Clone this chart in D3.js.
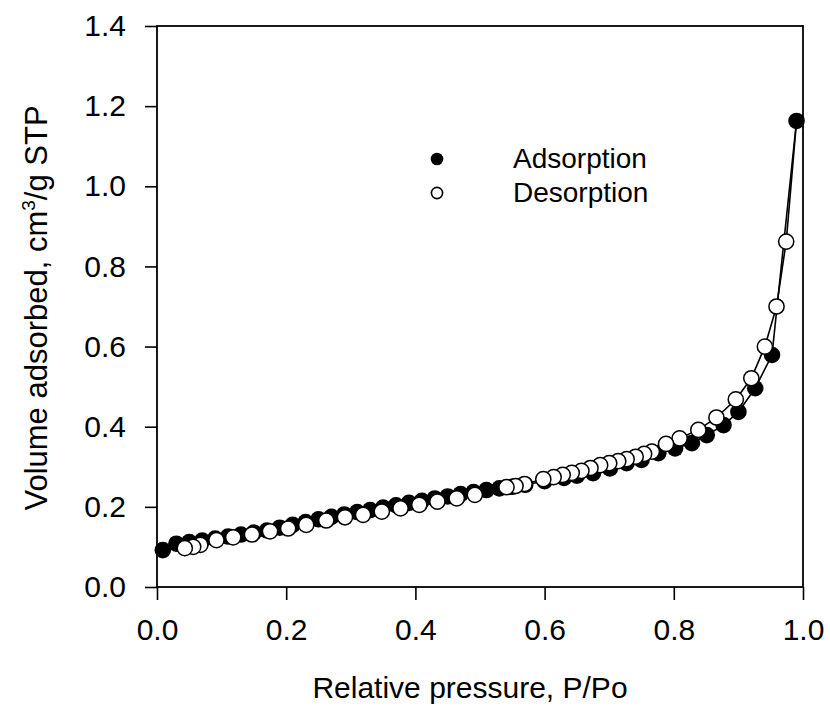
<!DOCTYPE html>
<html><head><meta charset="utf-8">
<script src="https://cdn.jsdelivr.net/npm/d3@7"></script>
<style>body{margin:0;background:#fff}svg{display:block}text{font-family:"Liberation Sans",Arial,Helvetica,sans-serif;fill:#000}</style>
</head><body><svg id="c" width="830" height="706"></svg>
<script>
const adsX = [0.009,0.03,0.05,0.07,0.09,0.11,0.13,0.15,0.17,0.19,0.21,0.23,0.25,0.27,0.29,0.31,0.33,0.35,0.37,0.39,0.41,0.43,0.45,0.47,0.49,0.51,0.53,0.55,0.57,0.60,0.63,0.65,0.675,0.701,0.727,0.75,0.776,0.802,0.828,0.851,0.877,0.90,0.926,0.952,0.99];
const adsY = [0.092,0.108,0.112,0.116,0.121,0.126,0.131,0.136,0.141,0.148,0.155,0.162,0.169,0.175,0.181,0.187,0.192,0.198,0.204,0.210,0.215,0.221,0.226,0.232,0.237,0.242,0.246,0.250,0.255,0.264,0.272,0.278,0.284,0.296,0.309,0.317,0.334,0.346,0.359,0.379,0.404,0.437,0.496,0.579,1.163];
const desX = [0.974,0.959,0.941,0.92,0.896,0.866,0.838,0.809,0.788,0.766,0.754,0.741,0.727,0.714,0.70,0.686,0.671,0.657,0.642,0.628,0.614,0.598,0.569,0.555,0.541,0.492,0.464,0.434,0.406,0.377,0.348,0.319,0.291,0.262,0.231,0.203,0.175,0.147,0.118,0.092,0.067,0.056,0.043];
const desY = [0.862,0.70,0.60,0.521,0.468,0.423,0.392,0.371,0.357,0.338,0.332,0.325,0.319,0.314,0.309,0.304,0.297,0.290,0.285,0.280,0.274,0.269,0.257,0.252,0.249,0.230,0.221,0.213,0.205,0.196,0.188,0.180,0.174,0.166,0.155,0.146,0.139,0.131,0.124,0.117,0.105,0.100,0.097];
const xTicks = [0,0.2,0.4,0.6,0.8,1.0];
const yTicks = [0,0.2,0.4,0.6,0.8,1.0,1.2,1.4];
const seriesNames = ["Adsorption","Desorption"];

const L=157,R=803,T=26,B=587;
const svg=d3.select("#c");
const x=d3.scaleLinear().domain([0,1]).range([L,R]);
const y=d3.scaleLinear().domain([0,1.4]).range([B,T]);
const FS=30;

const xa=svg.append("g").attr("transform",`translate(0,${B})`)
  .call(d3.axisBottom(x).tickValues(xTicks).tickFormat(d3.format(".1f")).tickSizeInner(13).tickSizeOuter(0).tickPadding(19));
const ya=svg.append("g").attr("transform",`translate(${L},0)`)
  .call(d3.axisLeft(y).tickValues(yTicks).tickFormat(d3.format(".1f")).tickSizeInner(12).tickSizeOuter(0).tickPadding(19));
[xa,ya].forEach(a=>{a.select(".domain").remove();a.selectAll("line").attr("stroke","#000").attr("stroke-width",1.6);
  a.selectAll("text").attr("font-size",FS).attr("font-family","Liberation Sans, Arial, sans-serif").attr("fill","#000");});
svg.append("rect").attr("x",L).attr("y",T).attr("width",R-L).attr("height",B-T)
  .attr("fill","none").attr("stroke","#000").attr("stroke-width",1.8);

const ads=adsX.map((d,i)=>[d,adsY[i]]);
const des=desX.map((d,i)=>[d,desY[i]]);
const line=d3.line().x(d=>x(d[0])).y(d=>y(d[1]));
svg.append("path").attr("d",line(ads)).attr("fill","none").attr("stroke","#000").attr("stroke-width",1.6);
svg.append("path").attr("d",line([ads[ads.length-1]].concat(des))).attr("fill","none").attr("stroke","#000").attr("stroke-width",1.6);
svg.append("g").selectAll("circle").data(ads).join("circle")
  .attr("cx",d=>x(d[0])).attr("cy",d=>y(d[1])).attr("r",8.3).attr("fill","#000");
svg.append("g").selectAll("circle").data(des).join("circle")
  .attr("cx",d=>x(d[0])).attr("cy",d=>y(d[1])).attr("r",7.6).attr("fill","#fff").attr("stroke","#000").attr("stroke-width",1.5);

// legend
const lg=svg.append("g");
lg.append("circle").attr("cx",437).attr("cy",159).attr("r",6.3).attr("fill","#000");
lg.append("circle").attr("cx",437).attr("cy",193).attr("r",5.6).attr("fill","#fff").attr("stroke","#000").attr("stroke-width",1.6);
lg.append("text").attr("x",513).attr("y",168).attr("font-size",28).text(seriesNames[0]);
lg.append("text").attr("x",513).attr("y",202).attr("font-size",28).text(seriesNames[1]);

// axis titles
svg.append("text").attr("x",470).attr("y",698).attr("text-anchor","middle").attr("font-size",30).text("Relative pressure, P/Po");
const yt=svg.append("text").attr("transform",`translate(47,308) rotate(-90)`).attr("text-anchor","middle").attr("font-size",31);
yt.append("tspan").text("Volume adsorbed, cm");
yt.append("tspan").attr("font-size",19).attr("dy",-12).text("3");
yt.append("tspan").attr("dy",12).text("/g STP");
</script></body></html>
